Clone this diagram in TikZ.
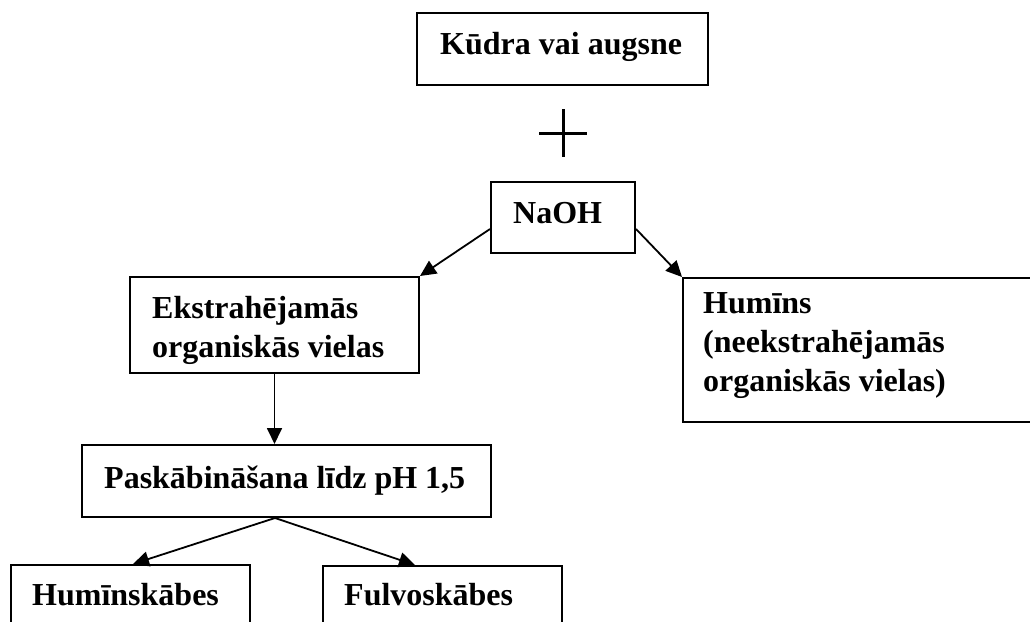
\documentclass[tikz,border=0pt]{standalone}
\usepackage{fontspec}
\setmainfont{Liberation Serif}
\usetikzlibrary{arrows.meta}
\begin{document}
\begin{tikzpicture}[x=1pt,y=-1pt,
  box/.style={draw,line width=2pt,rectangle,inner sep=0pt,minimum width=#1},
  lbl/.style={anchor=base west,inner sep=0pt,font=\fontsize{32}{38.5}\selectfont\bfseries},
  arr/.style={line width=1.8pt,-{Triangle[length=16pt,width=15pt]}},
  plusline/.style={line width=3pt}]
\useasboundingbox (0,0) rectangle (1030,621);
% boxes
\node[box=291pt,minimum height=72pt] (top) at (562.5,49) {};
\node[box=144pt,minimum height=71pt] (naoh) at (563,217.5) {};
\node[box=289pt,minimum height=96pt] (ekstra) at (274.5,325) {};
\node[box=362pt,minimum height=144pt] (humins) at (864,350) {};
\node[box=409pt,minimum height=72pt] (paskab) at (286.5,481) {};
\node[box=239pt,minimum height=75pt] (humsk) at (130.5,602.5) {};
\node[box=239pt,minimum height=74pt] (fulvo) at (442.5,603) {};
% texts
\node[lbl] (t1) at (440,54) {Kūdra vai augsne};
\node[lbl] (t2) at (513,223) {NaOH};
\node[lbl] (t3a) at (152,318) {Ekstrahējamās};
\node[lbl] (t3b) at (152,357) {organiskās vielas};
\node[lbl] (t4a) at (703,313.5) {Humīns};
\node[lbl] (t4b) at (703,352) {(neekstrahējamās};
\node[lbl] (t4c) at (703,391.5) {organiskās vielas)};
\node[lbl] (t5) at (104,488) {Paskābināšana līdz pH 1,5};
\node[lbl] (t6) at (32,605) {Humīnskābes};
\node[lbl] (t7) at (344,605) {Fulvoskābes};
% plus sign
\coordinate (pc) at (563,133);
\draw[plusline] ([xshift=-24pt]pc) -- ([xshift=24pt]pc);
\draw[plusline] ([yshift=24pt]pc) -- ([yshift=-24pt]pc);
% connectors
\draw[arr] ([yshift=-11.5pt]naoh.west) -- (ekstra.north east);
\draw[arr] ([yshift=-11.5pt]naoh.east) -- (humins.north west);
\draw[arr] (ekstra.south) -- (ekstra.south |- paskab.north);
\draw[arr] ([xshift=-11.5pt]paskab.south) -- ([xshift=2.5pt]humsk.north);
\draw[arr] ([xshift=-11.5pt]paskab.south) -- ([xshift=-27.5pt]fulvo.north);
\end{tikzpicture}
\end{document}
